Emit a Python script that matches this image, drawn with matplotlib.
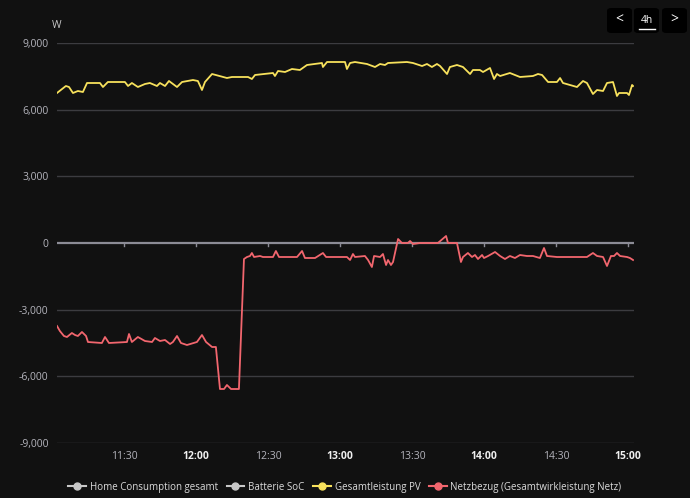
import numpy as np
import matplotlib.pyplot as plt
from matplotlib.patches import FancyBboxPatch
from matplotlib.lines import Line2D

plt.rcParams['font.family'] = ['Open Sans', 'DejaVu Sans']

# Zeit in Minuten ab 11:00, Werte in W
pv_t = [2.1, 5.8, 7.1, 8.75, 10.8, 12.9, 14.6, 20, 21.25, 23.3, 30.4, 31.7, 33.3, 35.8,
        38.75, 40.8, 43.75, 45, 47.1, 48.75, 52.1, 54.2, 58.75, 60.8, 62.5, 63.75, 66.7,
        72.9, 75, 78.3, 81.7, 83.3, 84.6, 92.1, 92.9, 94.2, 97.1, 100, 103.3, 106.25,
        112.5, 112.9, 114.6, 122.1, 122.9, 124.2, 126.25, 131.25, 134.6, 136.7, 138.75,
        140, 147.9, 150.4, 154.2, 156.25, 158.3, 160.4, 161.7, 164.6, 165.8, 168.75,
        171.25, 174.2, 175.4, 178.3, 179.6, 182.5, 184.2, 185.4, 186.7, 190.8, 195,
        200.4, 202.5, 204.2, 206.7, 210.4, 211.7, 212.9, 218.75, 221.25, 222.9, 225.4,
        227.1, 229.6, 231.25, 233.75, 235.4, 236.25, 239.6, 240.4, 241.7, 242.1]
pv_w = [6750, 7065, 7020, 6750, 6840, 6795, 7200, 7200, 7020, 7245, 7245, 7065, 7200, 7020,
        7155, 7200, 7065, 7200, 7065, 7290, 7020, 7245, 7335, 7290, 6885, 7245, 7605,
        7425, 7470, 7470, 7470, 7380, 7560, 7650, 7515, 7740, 7695, 7830, 7785, 8010,
        8100, 7920, 8145, 8145, 7830, 8100, 8145, 8055, 7920, 8055, 8010,
        8100, 8145, 8100, 7965, 8055, 7920, 8055, 7965, 7605, 7920, 8010,
        7920, 7605, 7785, 7785, 7695, 7875, 7380, 7605, 7515, 7650, 7470,
        7515, 7605, 7560, 7245, 7245, 7425, 7200, 7020, 7290, 7200, 6705,
        6885, 6840, 7200, 7245, 6615, 6750, 6750, 6660, 7110, 7065]

netz_t = [2.1, 3.3, 5, 6.25, 8.3, 9.6, 10.8, 12.5, 14.2, 15, 20.8, 22.1, 23.75, 31.25,
          32.1, 33.3, 35.8, 38.75, 41.7, 42.9, 45, 47.1, 49.2, 50.4, 52.1, 53.75, 56.25,
          60.4, 62.5, 64.2, 66.7, 68.3, 70, 71.7, 72.9, 74.6, 77.9, 80, 81.25, 82.5, 83.3,
          84.2, 86.7, 87.9, 92.1, 93.3, 94.6, 102.1, 104.2, 105.4, 109.6, 112.9, 114.2,
          122.9, 124.2, 125.4, 126.25, 130.4, 131.7, 133.3, 134.2, 136.7, 137.9, 139.2,
          140, 141.25, 142.1, 144.2, 145.8, 148.3, 149.2, 150.4, 153.3, 158.75, 160.8,
          164.2, 165, 168.75, 170.4, 171.25, 173.3, 175, 176.25, 177.5, 179.2, 180, 181.7,
          184.6, 186.7, 188.75, 190.8, 192.9, 195, 197.9, 200.4, 203.3, 205, 206.25, 210.4,
          214.6, 220, 222.9, 225.4, 227.1, 229.6, 231.25, 232.9, 234.2, 235.4, 236.7,
          239.6, 240.8, 242.1]
netz_w = [-3735, -3960, -4185, -4230, -4050, -4140, -4185, -4005, -4185, -4455, -4500, -4230, -4500, -4455,
          -4095, -4455, -4230, -4410, -4455, -4275, -4410, -4365, -4545, -4455, -4185, -4500, -4590,
          -4455, -4140, -4455, -4680, -4680, -6570, -6570, -6390, -6570, -6570, -720, -630, -585, -450,
          -630, -585, -630, -630, -360, -630, -630, -360, -675, -675, -450, -630,
          -630, -765, -495, -630, -585, -765, -1080, -585, -630, -495, -990,
          -765, -990, -855, 180, 0, 0, 90, -45, 0, 0, 0,
          315, 0, 0, -855, -630, -450, -630, -540, -720, -540, -675, -585,
          -405, -585, -720, -585, -675, -540, -585, -585, -675, -225, -585, -630,
          -630, -630, -630, -450, -585, -630, -1035, -585, -585, -450, -585,
          -630, -675, -765]

tick_min = [30, 60, 90, 120, 150, 180, 210, 240]
tick_lab = ['11:30', '12:00', '12:30', '13:00', '13:30', '14:00', '14:30', '15:00']
y_ticks = [-9000, -6000, -3000, 0, 3000, 6000, 9000]

legend_names = ['Home Consumption gesamt', 'Batterie SoC', 'Gesamtleistung PV',
                'Netzbezug (Gesamtwirkleistung Netz)']
legend_colors = ['#c8c8c8', '#c8c8c8', '#f7e15c', '#f2666e']

bg = '#111111'
fig = plt.figure(figsize=(6.9, 4.98), dpi=100, facecolor=bg)
ax = fig.add_axes([57/690, 1 - 443/498, (634 - 57)/690, 400/498], facecolor=bg)

for y in y_ticks:
    if y != 0:
        ax.axhline(y, color='#3c3c40', lw=1.0, zorder=1)
ax.axhline(0, color='#8c8c96', lw=1.6, zorder=2)
# kleine Ticks an der Nulllinie
for t in tick_min:
    ax.plot([t, t], [0, -120], color='#8c8c96', lw=1.0, zorder=2)

ax.plot(pv_t, pv_w, color=legend_colors[2], lw=1.3, zorder=3)
ax.plot(netz_t, netz_w, color=legend_colors[3], lw=1.3, zorder=3)

ax.set_xlim(2.1, 242.5)
ax.set_ylim(-9000, 9000)
for s in ax.spines.values():
    s.set_visible(False)
ax.set_yticks(y_ticks)
ax.set_yticklabels([f'{v:,}' for v in y_ticks])
ax.tick_params(axis='y', length=0, pad=6, labelsize=7.5, labelcolor='#b4b4bc')
ax.set_xticks(tick_min)
ax.set_xticklabels(tick_lab)
ax.tick_params(axis='x', length=0, pad=6, labelsize=7.5, labelcolor='#b4b4bc')
for lab in ax.get_xticklabels():
    if lab.get_text().endswith(':00'):
        lab.set_fontweight('bold')
        lab.set_color('#f0f0f0')

fig.text(52/690, 1 - 26/498, 'W', color='#c8c8c8', fontsize=7.5, ha='left', va='center')

# Legende
handles = [Line2D([0], [0], color=c, lw=1.5, marker='o', markersize=5)
           for c in legend_colors]
leg = fig.legend(handles, legend_names, loc='center', bbox_to_anchor=(0.5, 1 - 487/498),
                 ncol=4, frameon=False, fontsize=7, labelcolor='#dcdcdc',
                 handlelength=1.8, handletextpad=0.4, columnspacing=0.9)

# Knoepfe oben rechts
for x0, txt in [(607, '<'), (634, '4h'), (662, '>')]:
    b = FancyBboxPatch((x0/690, 1 - 33/498), 25/690, 25/498,
                       boxstyle='round,pad=0,rounding_size=0.006',
                       transform=fig.transFigure, facecolor='#000000', edgecolor='none')
    fig.patches.append(b)
    fig.text((x0 + 12.5)/690, 1 - 20.5/498, txt, color='white', ha='center', va='center',
             fontsize=10 if txt != '4h' else 7.5)
fig.lines.append(Line2D([639/690, 655/690], [1 - 29/498, 1 - 29/498],
                        transform=fig.transFigure, color='white', lw=1.0))

fig.savefig('out.png', dpi=100, facecolor=bg)
